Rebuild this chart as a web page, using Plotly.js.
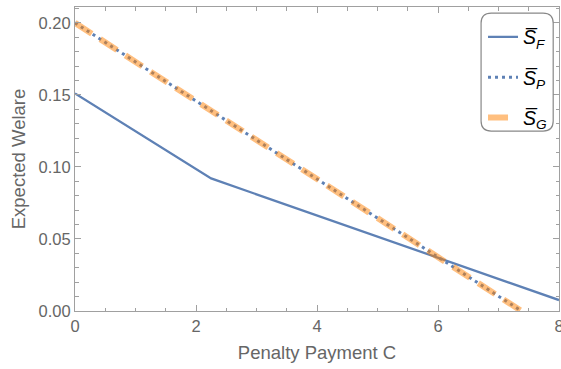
<!DOCTYPE html>
<html>
<head>
<meta charset="utf-8">
<script src="https://cdn.plot.ly/plotly-3.0.1.min.js"></script>
<style>html,body{margin:0;padding:0;background:#fff}#plot{width:561px;height:369px}</style>
</head>
<body>
<div id="plot"></div>
<script>
// Data
const sfX = [0, 2.25, 8];
const sfY = [0.151, 0.092, 0.0076];
const spX = [0, 7.38];
const spY = [0.2, 0];
const sgX = [0, 7.38];
const sgY = [0.2, 0];
const seriesNames = ["<i>S\u0305<sub>F</sub></i>", "<i>S\u0305<sub>P</sub></i>", "<i>S\u0305<sub>G</sub></i>"];
const xTicks = [0, 2, 4, 6, 8];
const yTicks = [0, 0.05, 0.10, 0.15, 0.20];
const yTickText = ["0.00", "0.05", "0.10", "0.15", "0.20"];

const blue = "#5e81b5";
const font = "Liberation Sans";

const traces = [
  {x: sfX, y: sfY, mode: "lines", name: seriesNames[0], line: {color: blue, width: 2.3}, legendgroup: "a"},
  {x: spX, y: spY, mode: "lines", name: seriesNames[1], line: {color: blue, width: 3, dash: "3px,4px"}, legendgroup: "b"},
  {x: sgX, y: sgY, mode: "lines", name: seriesNames[2], line: {color: "rgba(255,128,0,0.5)", width: 6, dash: "20px,10px"}, legendgroup: "c"}
];

const axisCommon = {
  showgrid: false, zeroline: false, showline: true, linecolor: "#a0a0a0", linewidth: 1,
  mirror: "ticks", ticks: "inside", ticklen: 6, tickcolor: "#a0a0a0", tickwidth: 1,
  tickfont: {family: font, size: 16.5, color: "#666"},
  ticklabeloverflow: "allow"
};

const layout = {
  width: 561, height: 369,
  margin: {l: 75, r: 2, t: 7, b: 58},
  paper_bgcolor: "#fff", plot_bgcolor: "#fff",
  showlegend: true,
  xaxis: Object.assign({}, axisCommon, {
    range: [0, 8], tickvals: xTicks, ticktext: xTicks.map(String),
    minor: {dtick: 0.5, ticks: "inside", ticklen: 3.5, tickcolor: "#a0a0a0", showgrid: false},
    title: {text: "Penalty Payment C", font: {family: font, size: 18.5, color: "#666"}, standoff: 12}
  }),
  yaxis: Object.assign({}, axisCommon, {
    range: [0, 0.211], tickvals: yTicks, ticktext: yTickText,
    minor: {dtick: 0.01, ticks: "inside", ticklen: 3.5, tickcolor: "#a0a0a0", showgrid: false},
    title: {text: "Expected Welare", font: {family: font, size: 18.5, color: "#666"}, standoff: 8}
  }),
  legend: {
    x: 0.843, y: 0.965, xanchor: "left", yanchor: "top",
    bgcolor: "rgba(0,0,0,0)", borderwidth: 0,
    font: {family: font, size: 19.5, color: "#000"},
    itemwidth: 30, tracegroupgap: 12
  },
  shapes: [{
    type: "path", xref: "paper", yref: "paper",
    path: "M 0.86,0.98 L 0.967,0.98 Q 0.988,0.98 0.988,0.947 L 0.988,0.625 Q 0.988,0.592 0.967,0.592 L 0.86,0.592 Q 0.839,0.592 0.839,0.625 L 0.839,0.947 Q 0.839,0.98 0.86,0.98 Z",
    line: {color: "#888", width: 1.2}, fillcolor: "rgba(255,255,255,1)", layer: "above"
  }]
};

Plotly.newPlot("plot", traces, layout, {displayModeBar: false, staticPlot: true});
</script>
</body>
</html>
